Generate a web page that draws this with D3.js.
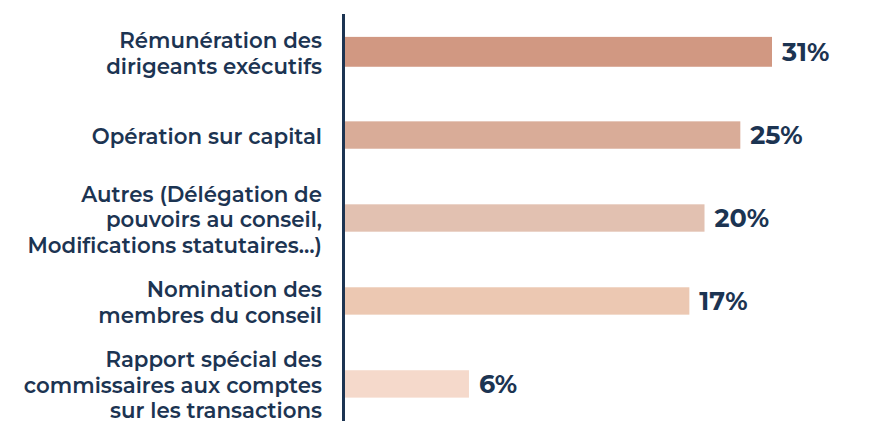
<!DOCTYPE html>
<html>
<head>
<meta charset="utf-8">
<script src="https://cdn.jsdelivr.net/npm/d3@7"></script>
<style>
  body { margin: 0; background: #fff; }
  svg { display: block; }
  text { font-family: Montserrat, "Inter", "Open Sans", sans-serif; fill: #1c3452; }
</style>
</head>
<body>
<div id="chart"></div>
<script>
// categories, one line per entry
var categories = [
  ["Rémunération des", "dirigeants exécutifs"],
  ["Opération sur capital"],
  ["Autres (Délégation de", "pouvoirs au conseil,", "Modifications statutaires…)"],
  ["Nomination des", "membres du conseil"],
  ["Rapport spécial des", "commissaires aux comptes", "sur les transactions"]
];
var valueLabels = ["31%", "25%", "20%", "17%", "6%"];
// bar lengths as drawn in the source (not proportional to the printed %)
var barValues = [31, 28.7, 26.1, 25.0, 9.0];
var colors = ["#d19882", "#d9ac98", "#e2c1b1", "#ecc8b2", "#f5d9cb"];

var width = 879, height = 423;

var svg = d3.select("#chart").append("svg")
  .attr("width", width)
  .attr("height", height);

var x = d3.scaleLinear().domain([0, 31]).range([345, 772]);

var y = d3.scaleBand()
  .domain(d3.range(categories.length))
  .range([11, 425])
  .paddingInner(0.67)
  .paddingOuter(0.33);

svg.selectAll("rect.bar")
  .data(barValues)
  .enter()
  .append("rect")
  .attr("class", "bar")
  .attr("x", x(0))
  .attr("y", (d, i) => y(i) - (i === 0 ? 1.5 : 0))
  .attr("width", d => x(d) - x(0))
  .attr("height", (d, i) => y.bandwidth() + (i === 0 ? 2.5 : 0))
  .attr("fill", (d, i) => colors[i]);

// vertical axis line
svg.append("line")
  .attr("x1", 343.5).attr("x2", 343.5)
  .attr("y1", 14).attr("y2", 421)
  .attr("stroke", "#1c3452")
  .attr("stroke-width", 3);

// category labels
var lineH = 25.5;
var labels = svg.selectAll("text.cat")
  .data(categories)
  .enter()
  .append("text")
  .attr("class", "cat")
  .attr("text-anchor", "end")
  .attr("font-size", 21.3)
  .attr("font-weight", 600)
  .attr("transform", (d, i) => {
    var cy = y(i) + y.bandwidth() / 2;
    var top = cy - (d.length - 1) * lineH / 2 + 9;
    return "translate(322," + top + ")";
  });

labels.selectAll("tspan")
  .data(d => d)
  .enter()
  .append("tspan")
  .attr("x", 0)
  .attr("y", (d, i) => i * lineH)
  .text(d => d);

// value labels
svg.selectAll("text.val")
  .data(barValues)
  .enter()
  .append("text")
  .attr("class", "val")
  .attr("x", d => x(d) + 10)
  .attr("y", (d, i) => y(i) + y.bandwidth() / 2 + 9)
  .attr("font-size", 25.5)
  .attr("font-weight", 700)
  .text((d, i) => valueLabels[i]);
</script>
</body>
</html>
